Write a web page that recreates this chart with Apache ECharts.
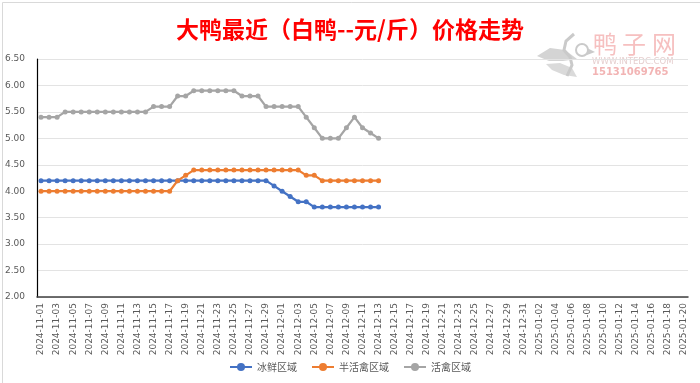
<!DOCTYPE html>
<html>
<head>
<meta charset="utf-8">
<script src="https://cdn.jsdelivr.net/npm/echarts@6/dist/echarts.min.js"></script>
<style>
html,body{margin:0;padding:0;background:#fff;}
#c{width:700px;height:383px;}
</style>
</head>
<body>
<div id="c"></div>
<script>
// categories: daily dates 2024-11-01 .. 2025-01-20
const categories = [
"2024-11-01","2024-11-02","2024-11-03","2024-11-04","2024-11-05","2024-11-06","2024-11-07","2024-11-08","2024-11-09","2024-11-10",
"2024-11-11","2024-11-12","2024-11-13","2024-11-14","2024-11-15","2024-11-16","2024-11-17","2024-11-18","2024-11-19","2024-11-20",
"2024-11-21","2024-11-22","2024-11-23","2024-11-24","2024-11-25","2024-11-26","2024-11-27","2024-11-28","2024-11-29","2024-11-30",
"2024-12-01","2024-12-02","2024-12-03","2024-12-04","2024-12-05","2024-12-06","2024-12-07","2024-12-08","2024-12-09","2024-12-10",
"2024-12-11","2024-12-12","2024-12-13","2024-12-14","2024-12-15","2024-12-16","2024-12-17","2024-12-18","2024-12-19","2024-12-20",
"2024-12-21","2024-12-22","2024-12-23","2024-12-24","2024-12-25","2024-12-26","2024-12-27","2024-12-28","2024-12-29","2024-12-30",
"2024-12-31","2025-01-01","2025-01-02","2025-01-03","2025-01-04","2025-01-05","2025-01-06","2025-01-07","2025-01-08","2025-01-09",
"2025-01-10","2025-01-11","2025-01-12","2025-01-13","2025-01-14","2025-01-15","2025-01-16","2025-01-17","2025-01-18","2025-01-19",
"2025-01-20"
];
const seriesNames = ["冰鲜区域","半活禽区域","活禽区域"];
const frozen = [4.2,4.2,4.2,4.2,4.2,4.2,4.2,4.2,4.2,4.2,
                4.2,4.2,4.2,4.2,4.2,4.2,4.2,4.2,4.2,4.2,
                4.2,4.2,4.2,4.2,4.2,4.2,4.2,4.2,4.2,4.1,
                4.0,3.9,3.8,3.8,3.7,3.7,3.7,3.7,3.7,3.7,
                3.7,3.7,3.7];
const semiLive = [4.0,4.0,4.0,4.0,4.0,4.0,4.0,4.0,4.0,4.0,
                  4.0,4.0,4.0,4.0,4.0,4.0,4.0,4.2,4.3,4.4,
                  4.4,4.4,4.4,4.4,4.4,4.4,4.4,4.4,4.4,4.4,
                  4.4,4.4,4.4,4.3,4.3,4.2,4.2,4.2,4.2,4.2,
                  4.2,4.2,4.2];
const live = [5.4,5.4,5.4,5.5,5.5,5.5,5.5,5.5,5.5,5.5,
              5.5,5.5,5.5,5.5,5.6,5.6,5.6,5.8,5.8,5.9,
              5.9,5.9,5.9,5.9,5.9,5.8,5.8,5.8,5.6,5.6,
              5.6,5.6,5.6,5.4,5.2,5.0,5.0,5.0,5.2,5.4,
              5.2,5.1,5.0];
const yTicks = {min:2, max:6.5, interval:0.5};
const colors = ["#4472C4","#ED7D31","#A5A5A5"];

const chart = echarts.init(document.getElementById('c'), null, {renderer:'canvas'});
const FONT = '"Noto Sans CJK SC","Noto Sans",sans-serif';
function mk(name, data, color){
  return {
    name:name, type:'line', data:data, symbol:'circle', symbolSize:5,
    lineStyle:{width:2.25,color:color}, itemStyle:{color:color},
    emphasis:{disabled:true}, animation:false
  };
}
chart.setOption({
  animation:false,
  backgroundColor:'#fff',
  textStyle:{fontFamily:FONT},
  title:{
    text:'大鸭最近（白鸭--元/斤）价格走势',
    left:'center', top:13,
    textStyle:{color:'#FF0000',fontSize:23,fontWeight:'bold',fontFamily:FONT}
  },
  legend:{
    data:seriesNames, bottom:6, left:'center',
    itemWidth:22, itemHeight:10, itemGap:14,
    textStyle:{color:'#595959',fontSize:10,fontFamily:FONT}
  },
  grid:{left:37,right:12,top:59,bottom:86,containLabel:false},
  xAxis:{
    type:'category', data:categories, boundaryGap:true,
    axisLine:{lineStyle:{color:'#404040',width:1.5}},
    axisTick:{show:false},
    axisLabel:{rotate:90,interval:1,color:'#595959',fontSize:9,margin:6,fontFamily:'"DejaVu Sans",sans-serif'}
  },
  yAxis:{
    type:'value', min:yTicks.min, max:yTicks.max, interval:yTicks.interval,
    axisLine:{show:true,lineStyle:{color:'#000',width:1.2}},
    axisTick:{show:false},
    axisLabel:{color:'#595959',fontSize:9,margin:12,formatter:v=>v.toFixed(2),fontFamily:'"DejaVu Sans",sans-serif'},
    splitLine:{lineStyle:{color:'#e3e3e3',width:1}}
  },
  series:[mk(seriesNames[0],frozen,colors[0]),mk(seriesNames[1],semiLive,colors[1]),mk(seriesNames[2],live,colors[2])],
  graphic:[
    {type:'rect',left:0,top:0,shape:{width:699,height:382},style:{fill:'none',stroke:'#d9d9d9',lineWidth:1},silent:true},
    {type:'polygon',silent:true,shape:{points:[[537,56],[550,48],[565,50],[577,59],[563,61],[549,61]]},style:{fill:'#d4d4d4'}},
    {type:'polygon',silent:true,shape:{points:[[546,64],[560,63],[572,68],[577,77],[564,75],[552,70]]},style:{fill:'#dadada'}},
    {type:'polyline',silent:true,shape:{points:[[574,34],[566,41],[564,50],[570,57],[572,65],[567,76]]},style:{stroke:'#cacaca',lineWidth:3,fill:'none'}},
    {type:'circle',silent:true,shape:{cx:582,cy:50,r:6},style:{fill:'none',stroke:'#cacaca',lineWidth:2}},
    {type:'polygon',silent:true,shape:{points:[[587,48],[595,52],[587,55]]},style:{fill:'#cacaca'}},
    {type:'text',left:593,top:32,silent:true,style:{text:'鸭',fill:'#f6c0c0',font:'24px "Noto Sans CJK SC"'}},
    {type:'text',left:622,top:32,silent:true,style:{text:'子',fill:'#f6c0c0',font:'24px "Noto Sans CJK SC"'}},
    {type:'text',left:652,top:32,silent:true,style:{text:'网',fill:'#f6c0c0',font:'24px "Noto Sans CJK SC"'}},
    {type:'text',left:592,top:57,silent:true,style:{text:'WWW.INTEDC.COM',fill:'#e6cfcf',font:'8.5px "DejaVu Sans"'}},
    {type:'text',left:592,top:67,silent:true,style:{text:'15131069765',fill:'#f2b4b4',font:'bold 10px "DejaVu Sans"'}}
  ]
});
</script>
</body>
</html>
